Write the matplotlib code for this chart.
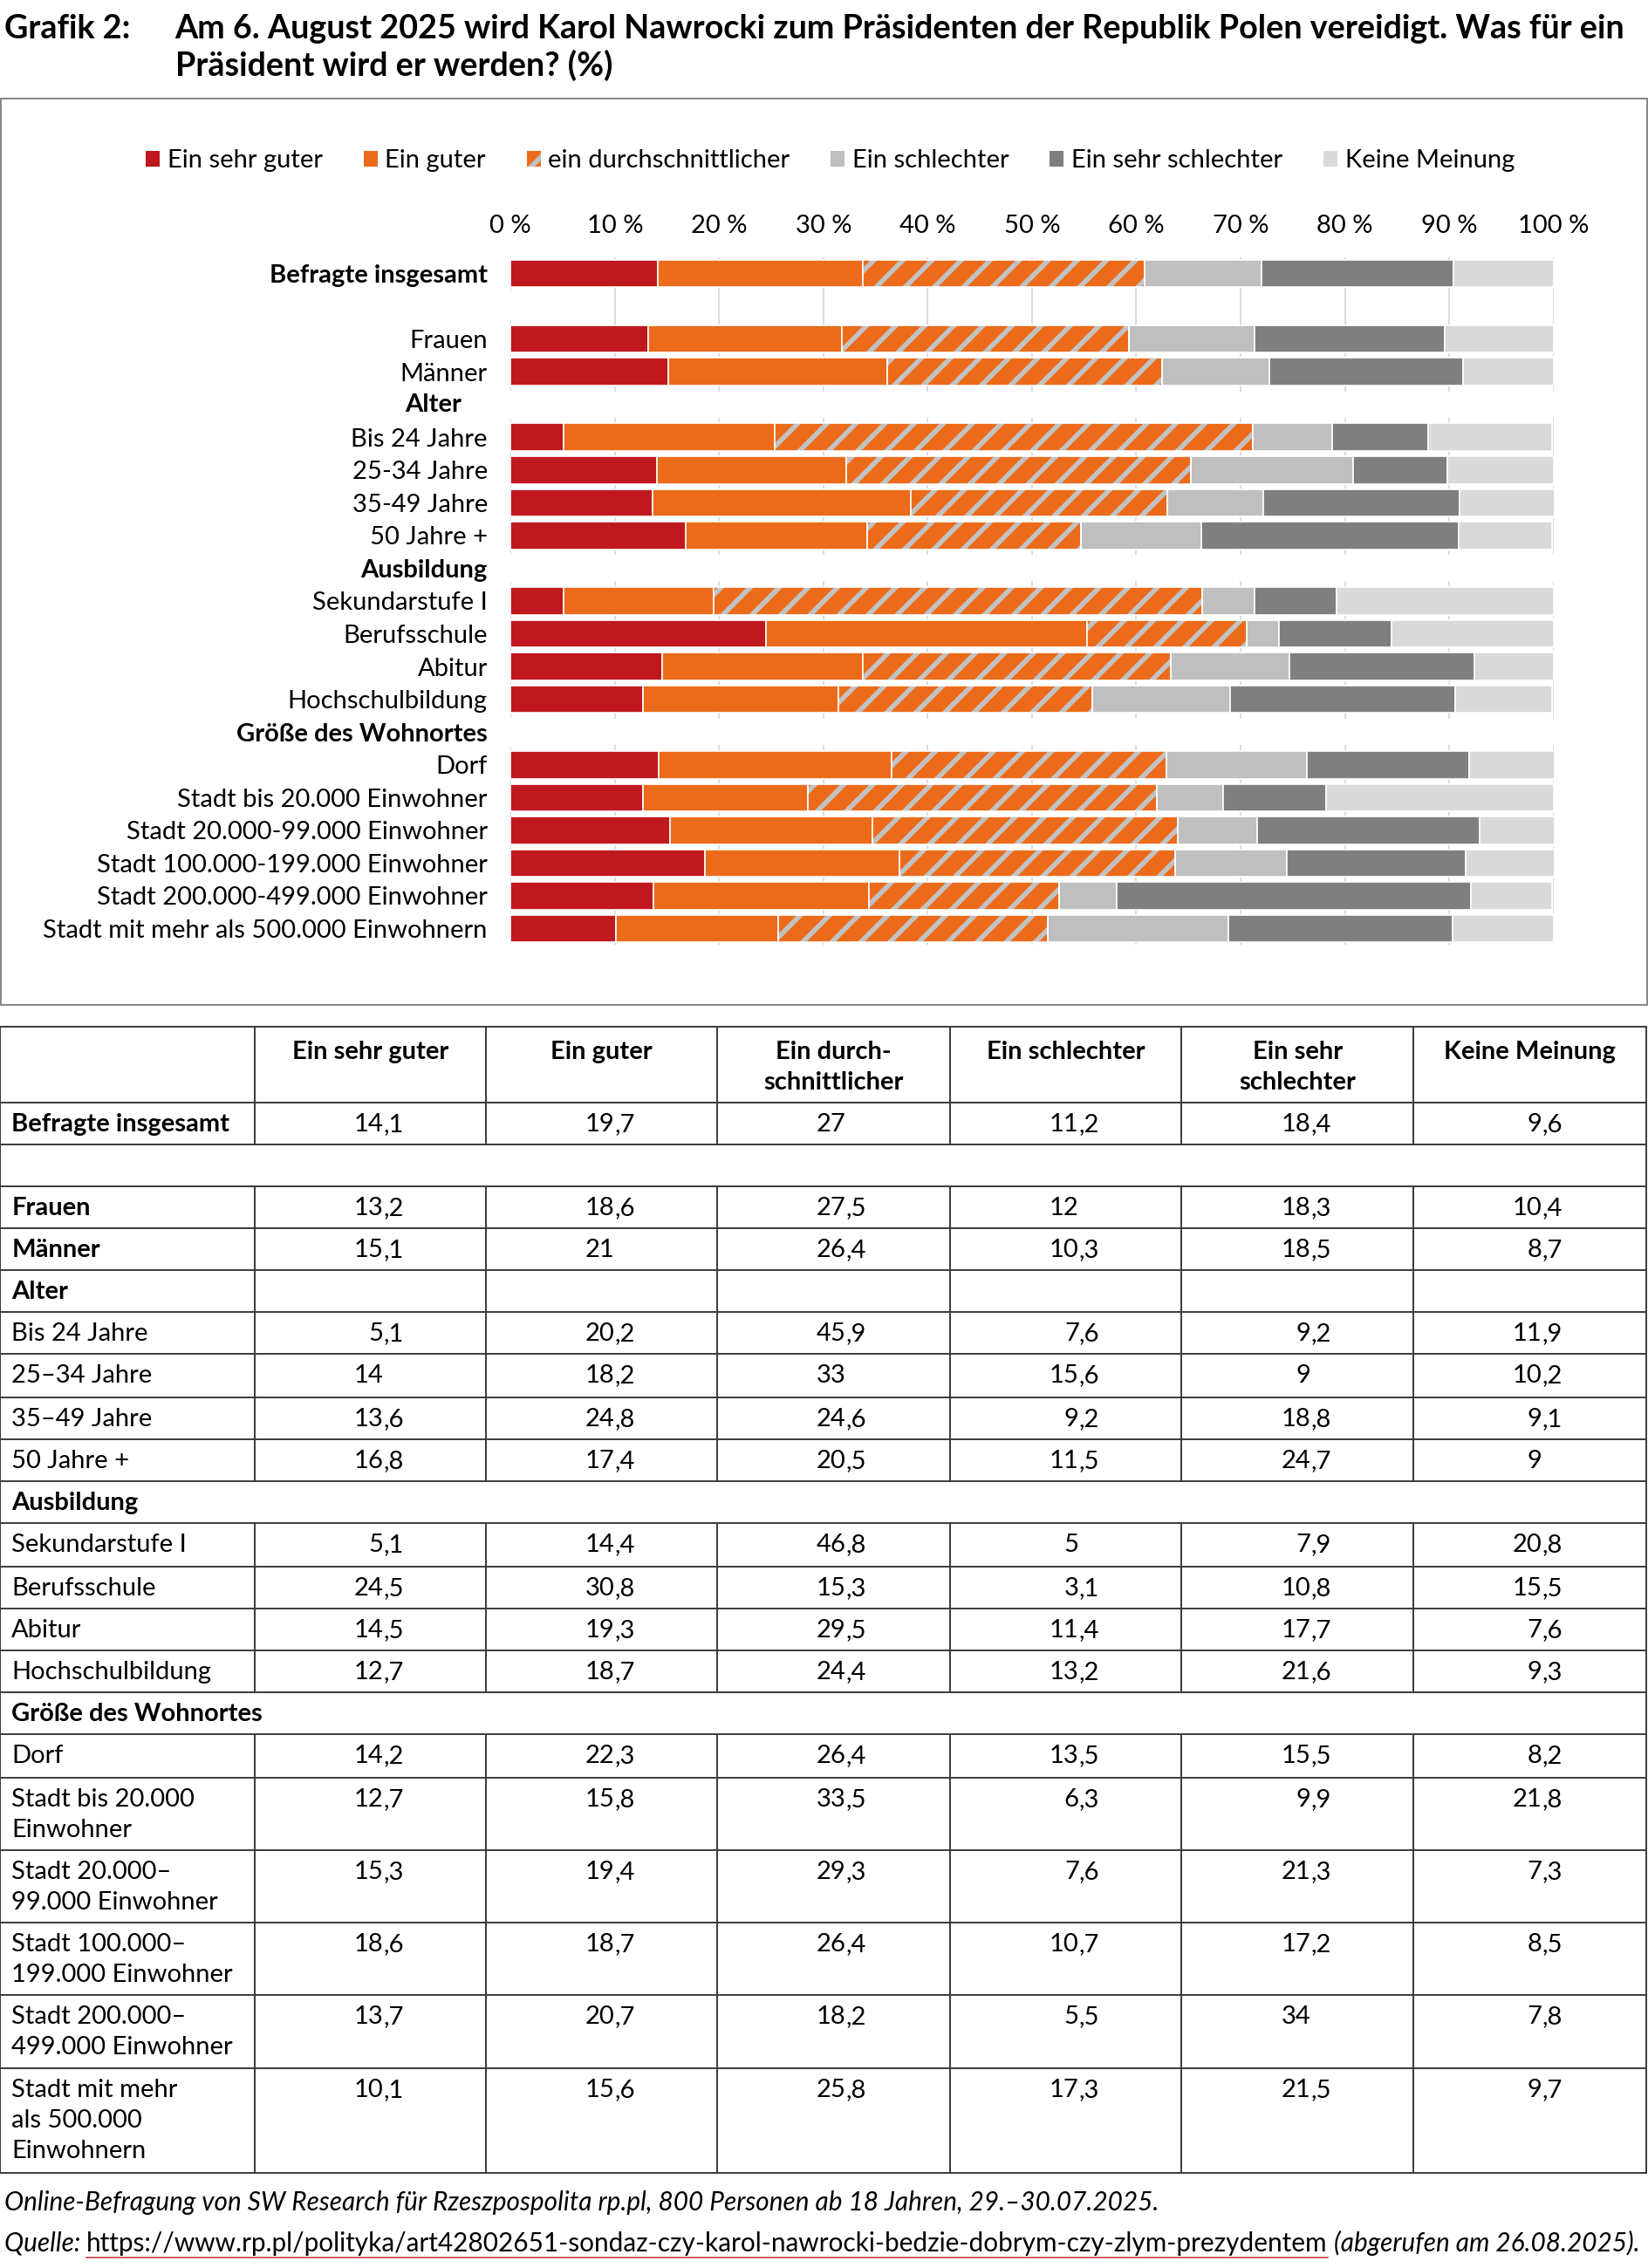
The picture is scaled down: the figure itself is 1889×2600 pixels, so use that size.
import numpy as np
import matplotlib

matplotlib.use("Agg")
import matplotlib.pyplot as plt
from matplotlib.patches import Patch, Rectangle
from matplotlib.lines import Line2D

plt.rcParams["font.family"] = ["Lato", "DejaVu Sans"]
plt.rcParams["hatch.linewidth"] = 4.0

nan = np.nan

# chart rows (top to bottom)
chart_labels = [
    "Befragte insgesamt", "", "Frauen", "Männer", "Alter",
    "Bis 24 Jahre", "25-34 Jahre", "35-49 Jahre", "50 Jahre +",
    "Ausbildung", "Sekundarstufe I", "Berufsschule", "Abitur", "Hochschulbildung",
    "Größe des Wohnortes", "Dorf", "Stadt bis 20.000 Einwohner",
    "Stadt 20.000-99.000 Einwohner", "Stadt 100.000-199.000 Einwohner",
    "Stadt 200.000-499.000 Einwohner", "Stadt mit mehr als 500.000 Einwohnern",
]
chart_bold = ["Befragte insgesamt", "Alter", "Ausbildung", "Größe des Wohnortes"]

table_labels = [
    "Befragte insgesamt", "", "Frauen", "Männer", "Alter",
    "Bis 24 Jahre", "25–34 Jahre", "35–49 Jahre", "50 Jahre +",
    "Ausbildung", "Sekundarstufe I", "Berufsschule", "Abitur", "Hochschulbildung",
    "Größe des Wohnortes", "Dorf", "Stadt bis 20.000\nEinwohner",
    "Stadt 20.000–\n99.000 Einwohner", "Stadt 100.000–\n199.000 Einwohner",
    "Stadt 200.000–\n499.000 Einwohner", "Stadt mit mehr\nals 500.000\nEinwohnern",
]
table_bold = ["Befragte insgesamt", "Frauen", "Männer", "Alter", "Ausbildung",
              "Größe des Wohnortes"]
merged_rows = ["", "Ausbildung", "Größe des Wohnortes"]

series_names = ["Ein sehr guter", "Ein guter", "ein durchschnittlicher",
                "Ein schlechter", "Ein sehr schlechter", "Keine Meinung"]
table_headers = ["Ein sehr guter", "Ein guter", "Ein durch-\nschnittlicher",
                 "Ein schlechter", "Ein sehr\nschlechter", "Keine Meinung"]

sehr_guter = [14.1, nan, 13.2, 15.1, nan, 5.1, 14, 13.6, 16.8, nan, 5.1, 24.5, 14.5,
              12.7, nan, 14.2, 12.7, 15.3, 18.6, 13.7, 10.1]
guter = [19.7, nan, 18.6, 21, nan, 20.2, 18.2, 24.8, 17.4, nan, 14.4, 30.8, 19.3,
         18.7, nan, 22.3, 15.8, 19.4, 18.7, 20.7, 15.6]
durchschnitt = [27, nan, 27.5, 26.4, nan, 45.9, 33, 24.6, 20.5, nan, 46.8, 15.3, 29.5,
                24.4, nan, 26.4, 33.5, 29.3, 26.4, 18.2, 25.8]
schlechter = [11.2, nan, 12, 10.3, nan, 7.6, 15.6, 9.2, 11.5, nan, 5, 3.1, 11.4,
              13.2, nan, 13.5, 6.3, 7.6, 10.7, 5.5, 17.3]
sehr_schlechter = [18.4, nan, 18.3, 18.5, nan, 9.2, 9, 18.8, 24.7, nan, 7.9, 10.8, 17.7,
                   21.6, nan, 15.5, 9.9, 21.3, 17.2, 34, 21.5]
keine_meinung = [9.6, nan, 10.4, 8.7, nan, 11.9, 10.2, 9.1, 9, nan, 20.8, 15.5, 7.6,
                 9.3, nan, 8.2, 21.8, 7.3, 8.5, 7.8, 9.7]

colors = ["#C0181F", "#EC6B1A", "#EC6B1A", "#BFBFBF", "#7F7F7F", "#D9D9D9"]
hatch_color = "#C2C2C2"
FS = 21

W, H = 1140.0, 1568.0  # layout units (scaled reference)


def fx(x):
    return x / W


def fy(y):
    return 1 - y / H


fig = plt.figure(figsize=(18.9, 26), dpi=100)

# title
fig.text(fx(3), fy(20), "Grafik 2:", fontsize=27.2, fontweight="bold", va="center")
fig.text(fx(121), fy(20),
         "Am 6. August 2025 wird Karol Nawrocki zum Präsidenten der Republik Polen vereidigt. Was für ein",
         fontsize=27.2, fontweight="bold", va="center")
fig.text(fx(121), fy(45), "Präsident wird er werden? (%)", fontsize=27.2,
         fontweight="bold", va="center")

# chart frame
fig.add_artist(Rectangle((fx(0.5), fy(695)), fx(1138.5), fy(68) - fy(695),
                         transform=fig.transFigure, fill=False,
                         edgecolor="#8A8A8A", linewidth=1.5))

# bar chart
n = len(chart_labels)
row_h = 22.65
top = 189 - row_h / 2
bottom = 642 + row_h / 2
ax = fig.add_axes([fx(353), fy(bottom), fx(1074) - fx(353), fy(top) - fy(bottom)])
y = np.arange(n)
data = [sehr_guter, guter, durchschnitt, schlechter, sehr_schlechter, keine_meinung]
left = np.zeros(n)
for i, vals in enumerate(data):
    vals = np.array(vals, dtype=float)
    w = np.nan_to_num(vals)
    if i == 2:
        ax.barh(y, w, left=left, height=0.84, color=colors[i], edgecolor=hatch_color,
                hatch="/", linewidth=0, zorder=3)
        ax.barh(y, w, left=left, height=0.84, fill=False, edgecolor="white",
                linewidth=1.2, zorder=4)
    else:
        ax.barh(y, w, left=left, height=0.84, color=colors[i], edgecolor="white",
                linewidth=1.2, zorder=3)
    left = left + w

for g in range(0, 101, 10):
    ax.axvline(g, color="#D9D9D9", linewidth=1.3, zorder=1)
for i, lab in enumerate(chart_labels):
    if lab in chart_bold and i > 0:
        ax.axhspan(i - 0.4, i + 0.4, color="white", zorder=2, linewidth=0)

ax.set_xlim(0, 100)
ax.set_ylim(n - 0.5, -0.5)
ax.xaxis.tick_top()
ax.set_xticks(range(0, 101, 10))
ax.set_xticklabels([f"{t} %" for t in range(0, 101, 10)], fontsize=FS)
ax.set_yticks(y)
# "Alter" sits a bit further left in the original, draw it by hand
ax.set_yticklabels(["" if lab == "Alter" else lab for lab in chart_labels], fontsize=FS)
for lab in ax.get_yticklabels():
    if lab.get_text() in chart_bold:
        lab.set_fontweight("bold")
ax.text(-0.047, chart_labels.index("Alter"), "Alter", fontsize=FS, fontweight="bold",
        ha="right", va="center", transform=ax.get_yaxis_transform())
ax.tick_params(axis="both", length=0)
ax.tick_params(axis="x", pad=16)
ax.tick_params(axis="y", pad=19)
for s in ax.spines.values():
    s.set_visible(False)

handles = []
for i, name in enumerate(series_names):
    if i == 2:
        handles.append(Patch(facecolor=colors[i], edgecolor=hatch_color, hatch="/",
                             linewidth=0, label=name))
    else:
        handles.append(Patch(facecolor=colors[i], label=name))
fig.legend(handles=handles, loc="center", bbox_to_anchor=(fx(574), fy(111)),
           ncol=6, frameon=False, fontsize=FS, handlelength=0.55, handleheight=0.55,
           handletextpad=0.3, columnspacing=1.6)

# table
col_x = [0, 176, 336, 496, 657, 817, 977, 1138]
row_y = [710, 762, 791, 820, 849, 878, 907, 936, 966, 995, 1024, 1053, 1083, 1112,
         1141, 1170, 1199, 1229, 1279, 1329, 1379, 1430, 1502]
line_c = "#3A3A3A"
lw = 1.4


def hline(yv, x0, x1):
    fig.add_artist(Line2D([fx(x0), fx(x1)], [fy(yv), fy(yv)], color=line_c,
                          linewidth=lw, transform=fig.transFigure))


def vline(xv, y0, y1):
    fig.add_artist(Line2D([fx(xv), fx(xv)], [fy(y0), fy(y1)], color=line_c,
                          linewidth=lw, transform=fig.transFigure))


for yv in row_y:
    hline(yv, col_x[0], col_x[-1])
vline(col_x[0], row_y[0], row_y[-1])
vline(col_x[-1], row_y[0], row_y[-1])
# header row
for xv in col_x[1:-1]:
    vline(xv, row_y[0], row_y[1])
for j, hd in enumerate(table_headers):
    cx = (col_x[j + 1] + col_x[j + 2]) / 2
    for k, part in enumerate(hd.split("\n")):
        fig.text(fx(cx), fy(row_y[0] + 22 + k * 21), part, fontsize=FS,
                 fontweight="bold", ha="center", va="baseline")


def fmt(v):
    if v == int(v):
        return f"{int(v)}", ""
    s = f"{v:.1f}".split(".")
    return s[0], "," + s[1]


for r, lab in enumerate(table_labels):
    y0, y1 = row_y[r + 1], row_y[r + 2]
    if lab not in merged_rows:
        for xv in col_x[1:-1]:
            vline(xv, y0, y1)
    weight = "bold" if lab in table_bold else "normal"
    for k, part in enumerate(lab.split("\n")):
        fig.text(fx(8), fy(y0 + 20 + k * 21), part, fontsize=FS, fontweight=weight,
                 va="baseline")
    for j, vals in enumerate(data):
        v = vals[r]
        if np.isnan(v):
            continue
        a, b = fmt(v)
        xa = col_x[j + 1] + 89
        fig.text(fx(xa), fy(y0 + 20), a, fontsize=FS, ha="right", va="baseline")
        if b:
            fig.text(fx(xa), fy(y0 + 20), b, fontsize=FS, ha="left", va="baseline")

# footer
fig.text(fx(3), fy(1523),
         "Online-Befragung von SW Research für Rzeszpospolita rp.pl, 800 Personen ab 18 Jahren, 29.–30.07.2025.",
         fontsize=21.4, style="italic", va="center")
renderer = fig.canvas.get_renderer()
parts = [("Quelle: ", "italic"),
         ("https://www.rp.pl/polityka/art42802651-sondaz-czy-karol-nawrocki-bedzie-dobrym-czy-zlym-prezydentem", "normal"),
         (" (abgerufen am 26.08.2025).", "italic")]
xpos = fx(3)
for txt, st in parts:
    t = fig.text(xpos, fy(1551), txt, fontsize=21.4, style=st, va="center")
    bb = t.get_window_extent(renderer=renderer).transformed(fig.transFigure.inverted())
    if st == "normal":
        fig.add_artist(Line2D([bb.x0, bb.x1], [fy(1561), fy(1561)], color="#D04040",
                              linewidth=1.2, transform=fig.transFigure))
    xpos = bb.x1

fig.savefig("out.png", dpi=100, facecolor="white")
